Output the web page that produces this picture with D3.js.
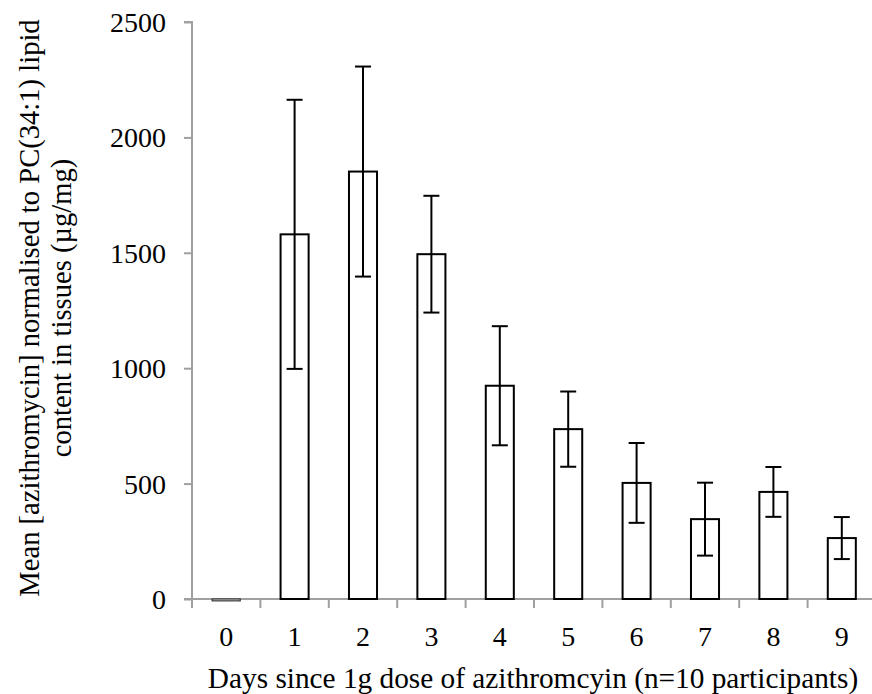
<!DOCTYPE html>
<html>
<head>
<meta charset="utf-8">
<script src="https://cdn.jsdelivr.net/npm/d3@7"></script>
<style>
  body { margin: 0; background: #fff; }
  svg text { font-family: "Liberation Serif", "DejaVu Serif", "Times New Roman", serif !important; fill: #000; }
</style>
</head>
<body>
<div id="chart"></div>
<script>
  const width = 872, height = 694;
  const margin = { top: 22, right: -4, bottom: 95, left: 192 };

  // values
  const days = ["0", "1", "2", "3", "4", "5", "6", "7", "8", "9"];
  const means = [-8, 1580, 1852, 1494, 924, 736, 503, 346, 464, 264];
  const errors = [0, 583, 455, 253, 258, 163, 173, 158, 108, 91];
  const yTicks = [0, 500, 1000, 1500, 2000, 2500];

  const font = '"Liberation Serif", "DejaVu Serif", serif';

  const svg = d3.select('#chart')
    .append('svg')
    .attr('width', width)
    .attr('height', height)
    .attr('font-family', font);

  const x = d3.scaleBand()
    .domain(days)
    .range([margin.left, width - margin.right])
    .paddingInner(0.59)
    .paddingOuter(0.295);

  const y = d3.scaleLinear()
    .domain([0, 2500])
    .range([height - margin.bottom, margin.top]);

  const grey = '#a0a0a0';

  // y axis
  const yAxis = svg.append('g')
    .attr('transform', `translate(${margin.left},0)`)
    .call(d3.axisLeft(y).tickValues(yTicks).tickFormat(d => String(d)).tickSize(8).tickPadding(18));
  yAxis.attr('font-family', font);
  yAxis.select('.domain').attr('stroke', grey).attr('stroke-width', 2).attr('d', `M-8,${y(2500)}H0V${y(0)}`);
  yAxis.selectAll('.tick line').attr('stroke', grey).attr('stroke-width', 2);
  yAxis.selectAll('.tick text').style('font-size', '28px').style('font-family', font).attr('dy', '0.34em');

  // x axis: ticks between categories
  const step = x.step();
  const bounds = d3.range(days.length + 1).map(i => margin.left + i * step);
  const xg = svg.append('g');
  xg.append('line')
    .attr('x1', margin.left - 8).attr('x2', width)
    .attr('y1', y(0)).attr('y2', y(0))
    .attr('stroke', grey).attr('stroke-width', 2);
  xg.selectAll('line.tk')
    .data(bounds)
    .join('line')
    .attr('class', 'tk')
    .attr('x1', d => d).attr('x2', d => d)
    .attr('y1', y(0)).attr('y2', y(0) + 9)
    .attr('stroke', grey).attr('stroke-width', 2);
  xg.selectAll('text')
    .data(days)
    .join('text')
    .attr('x', d => x(d) + x.bandwidth() / 2)
    .attr('y', y(0) + 47)
    .attr('text-anchor', 'middle')
    .style('font-size', '28px')
    .style('font-family', font)
    .text(d => d);

  // bars
  svg.append('g')
    .selectAll('rect')
    .data(days)
    .join('rect')
    .attr('x', d => x(d))
    .attr('width', x.bandwidth())
    .attr('y', (d, i) => Math.min(y(means[i]), y(0)))
    .attr('height', (d, i) => Math.abs(y(0) - y(means[i])))
    .attr('fill', '#fff')
    .attr('stroke', (d, i) => means[i] < 0 ? '#333' : '#000')
    .attr('stroke-width', (d, i) => means[i] < 0 ? 1.2 : 2);

  // error bars
  const capW = 8;
  const eb = svg.append('g')
    .selectAll('g')
    .data(days.filter((d, i) => errors[i] > 0))
    .join('g')
    .attr('stroke', '#000')
    .attr('stroke-width', 2);
  const cx = d => x(d) + x.bandwidth() / 2;
  const hi = d => { const i = days.indexOf(d); return y(means[i] + errors[i]); };
  const lo = d => { const i = days.indexOf(d); return y(means[i] - errors[i]); };
  eb.append('line').attr('x1', cx).attr('x2', cx).attr('y1', hi).attr('y2', lo);
  eb.append('line').attr('x1', d => cx(d) - capW).attr('x2', d => cx(d) + capW).attr('y1', hi).attr('y2', hi);
  eb.append('line').attr('x1', d => cx(d) - capW).attr('x2', d => cx(d) + capW).attr('y1', lo).attr('y2', lo);

  // axis titles
  svg.append('text')
    .attr('x', 533)
    .attr('y', 688)
    .attr('text-anchor', 'middle')
    .style('font-size', '29.3px')
    .style('font-family', font)
    .text('Days since 1g dose of azithromcyin (n=10 participants)');

  const yl = svg.append('text')
    .attr('transform', 'translate(0,308) rotate(-90)')
    .attr('text-anchor', 'middle')
    .style('font-size', '28.6px')
    .style('font-family', font);
  yl.append('tspan').attr('x', 0).attr('y', 39).text('Mean [azithromycin] normalised to PC(34:1) lipid');
  yl.append('tspan').attr('x', 0).attr('y', 71).text('content in tissues (µg/mg)');
</script>
</body>
</html>
